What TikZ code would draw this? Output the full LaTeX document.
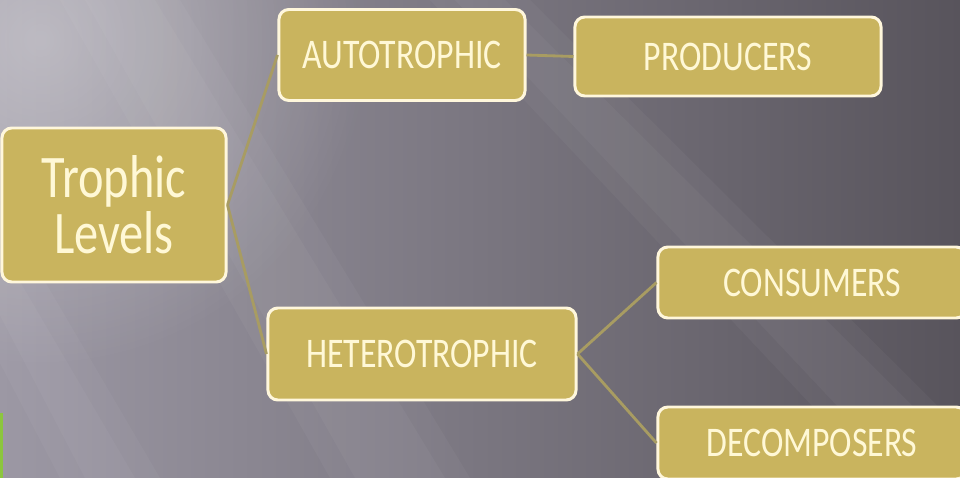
\documentclass[tikz,border=0pt]{standalone}
\usepackage{fontspec}
\setmainfont{Carlito}[FakeStretch=0.8]
\usetikzlibrary{fadings}
\definecolor{bgleft}{HTML}{9C98A4}
\definecolor{bgright}{HTML}{58545C}
\definecolor{boxfill}{HTML}{C9B45E}
\definecolor{boxline}{HTML}{FFF7DC}
\definecolor{boxtext}{HTML}{FFF8D6}
\definecolor{linkcol}{HTML}{A89C62}
\definecolor{barcol}{HTML}{8CC63E}
\tikzfading[name=glow, inner color=transparent!0, outer color=transparent!100]
\tikzset{
  levelbox/.style={draw=boxline, fill=boxfill, line width=2.1pt, rounded corners=7pt,
    text=boxtext, align=center, inner sep=0pt, font=\fontsize{30}{36}\selectfont},
  bigbox/.style={levelbox, font=\fontsize{43}{40}\selectfont},
  link/.style={draw=linkcol, line width=2pt},
  streak/.style={white, fill opacity=0.035}
}
\begin{document}
\begin{tikzpicture}[x=0.025cm, y=-0.025cm]
\useasboundingbox (0,0) rectangle (960,478);
\clip (0,0) rectangle (960,478);
% background
\fill[left color=bgleft, right color=bgright] (0,0) rectangle (960,478);
\fill[white, path fading=glow, fill opacity=0.35] (40,40) circle (330);
\foreach \w in {0,25} {
  \fill[streak] (430+\w,0) -- (530-\w,0) -- (1010-\w,478) -- (880+\w,478) -- cycle;
  \fill[streak] (-190+\w,0) -- (-120-\w,0) -- (160-\w,478) -- (60+\w,478) -- cycle;
  \fill[streak] (60+\w,0) -- (180-\w,0) -- (470-\w,478) -- (330+\w,478) -- cycle;
}
\fill[barcol] (0,413) rectangle (3,478);
% boxes
\node[bigbox, minimum width=5.6cm, minimum height=3.85cm] (trophic) at (114,205) {Trophic\\Levels};
\node[levelbox, minimum width=6.15cm, minimum height=2.275cm] (auto) at (402,55) {AUTOTROPHIC};
\node[levelbox, minimum width=7.65cm, minimum height=1.975cm] (prod) at (728,56.5) {PRODUCERS};
\node[levelbox, minimum width=7.7cm, minimum height=2.3cm] (hetero) at (422,354) {HETEROTROPHIC};
\node[levelbox, minimum width=7.7cm, minimum height=1.775cm] (cons) at (812,282.5) {CONSUMERS};
\node[levelbox, minimum width=7.7cm, minimum height=1.8cm] (decomp) at (812,443) {DECOMPOSERS};
% links
\draw[link] (trophic.east) -- (auto.west);
\draw[link] (trophic.east) -- (hetero.west);
\draw[link] (auto.east) -- (prod.west);
\draw[link] (hetero.east) -- (cons.west);
\draw[link] (hetero.east) -- (decomp.west);
\end{tikzpicture}
\end{document}
